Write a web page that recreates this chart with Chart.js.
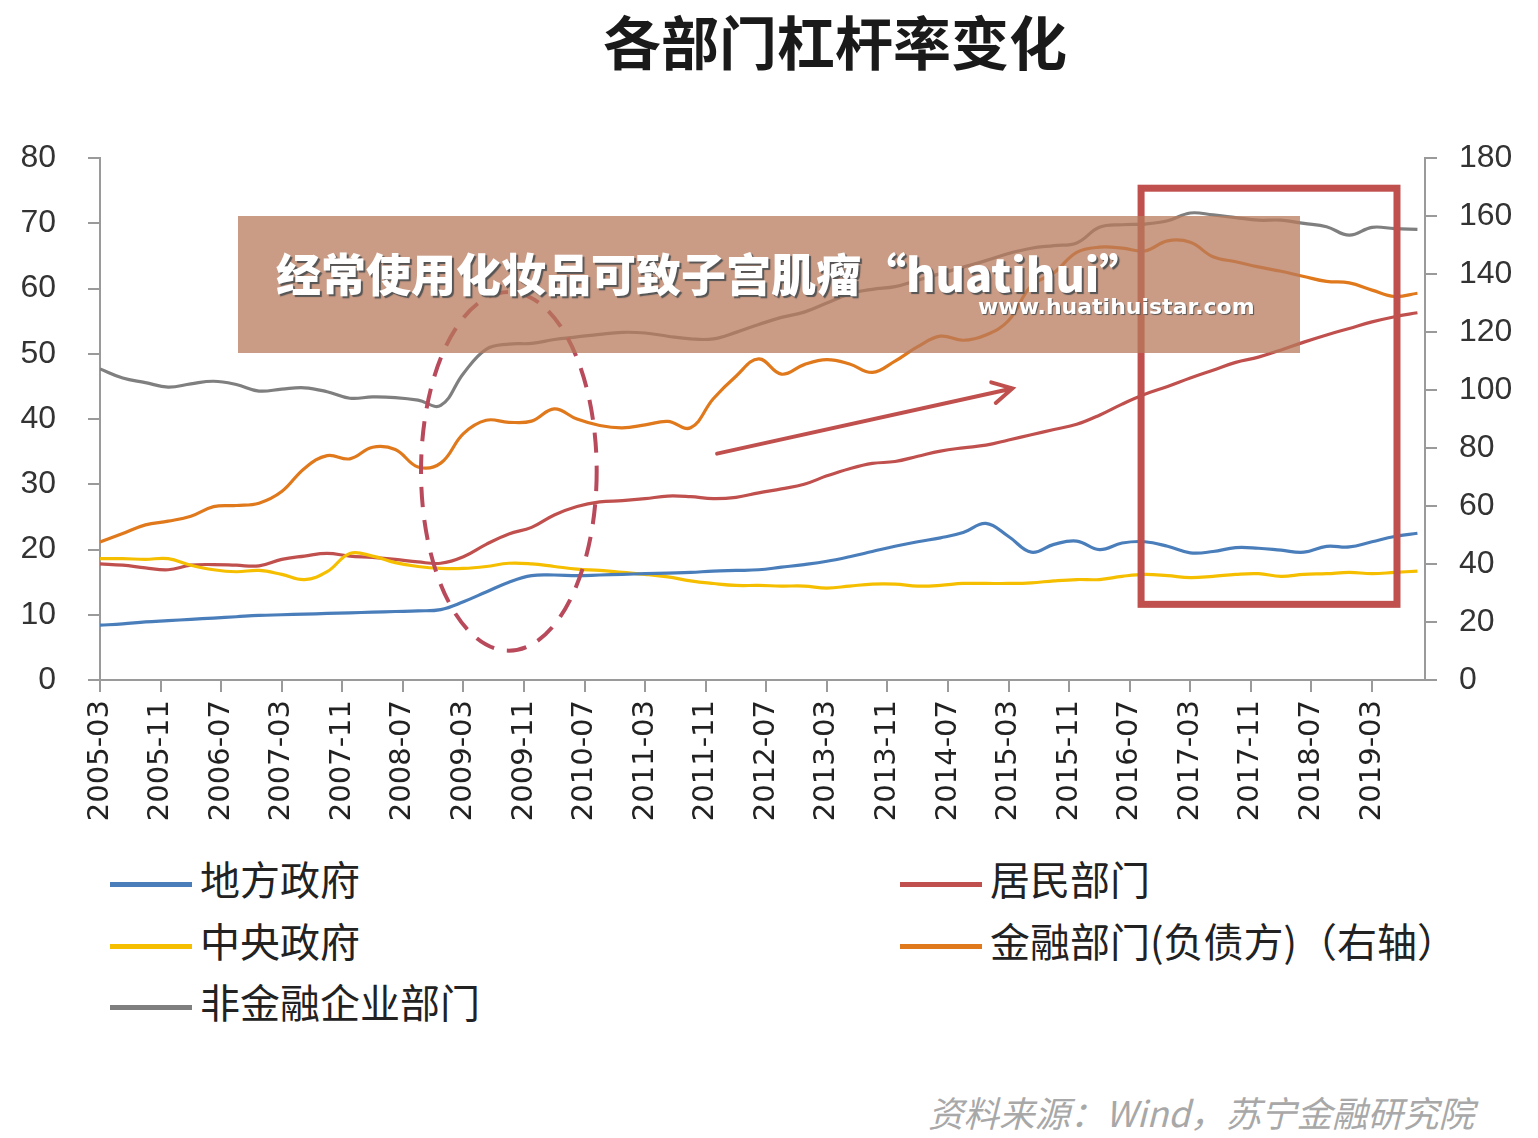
<!DOCTYPE html>
<html>
<head>
<meta charset="utf-8">
<script src="https://cdn.jsdelivr.net/npm/chart.js@4.4.0/dist/chart.umd.min.js"></script>
<style>
  body { margin: 0; background: #fff; width: 1538px; height: 1138px; position: relative; overflow: hidden; font-family: "Noto Sans CJK SC", sans-serif; }
  #title { position: absolute; left: 0; width: 1670px; top: -2px; text-align: center; font-size: 58px; font-weight: bold; color: #1a1a1a; }
  #chartBox { position: absolute; left: 0; top: 107px; width: 1538px; height: 733px; }
  .lg { position: absolute; font-size: 40px; color: #222; height: 60px; line-height: 60px; }
  .lg span { display: inline-block; width: 82px; height: 5px; vertical-align: middle; margin-right: 8px; }
  #banner { position: absolute; left: 238px; top: 216px; width: 1062px; height: 137px; background: rgba(184,122,92,0.75); }
  #banner .t1 { position: absolute; left: 38px; top: 24px; font-size: 45px; font-weight: 900; color: #fff; white-space: nowrap; text-shadow: 2px 2px 1px #555; }
  #banner .t2 { position: absolute; left: 740px; top: 78px; font-size: 22px; font-weight: bold; color: #fff; white-space: nowrap; font-family: "DejaVu Sans", sans-serif; text-shadow: 1px 1px 1px #555; }
  #source { position: absolute; left: 928px; top: 1086px; font-size: 35.5px; font-style: italic; color: #a8a8a8; white-space: nowrap; }
</style>
</head>
<body>
<div id="title">各部门杠杆率变化</div>
<div id="chartBox"><canvas id="levChart" width="1538" height="733"></canvas></div>
<div id="banner">
  <div class="t1">经常使用化妆品可致子宫肌瘤“huatihui”</div>
  <div class="t2">www.huatihuistar.com</div>
</div>
<div class="lg" style="left:110px; top:848px;"><span style="background:#4A7EBB"></span>地方政府</div>
<div class="lg" style="left:110px; top:910px;"><span style="background:#F5BF00"></span>中央政府</div>
<div class="lg" style="left:110px; top:971px;"><span style="background:#7F7F7F"></span>非金融企业部门</div>
<div class="lg" style="left:900px; top:848px;"><span style="background:#C0504D"></span>居民部门</div>
<div class="lg" style="left:900px; top:910px;"><span style="background:#E0781C"></span>金融部门(负债方)（右轴）</div>
<div id="source">资料来源：Wind，苏宁金融研究院</div>

<script>
// 季度日期
const dates = [
  '2005-03','2005-06','2005-09','2005-12','2006-03','2006-06','2006-09','2006-12',
  '2007-03','2007-06','2007-09','2007-12','2008-03','2008-06','2008-09','2008-12',
  '2009-03','2009-06','2009-09','2009-12','2010-03','2010-06','2010-09','2010-12',
  '2011-03','2011-06','2011-09','2011-12','2012-03','2012-06','2012-09','2012-12',
  '2013-03','2013-06','2013-09','2013-12','2014-03','2014-06','2014-09','2014-12',
  '2015-03','2015-06','2015-09','2015-12','2016-03','2016-06','2016-09','2016-12',
  '2017-03','2017-06','2017-09','2017-12','2018-03','2018-06','2018-09','2018-12',
  '2019-03','2019-06','2019-09'
];

// X轴刻度标签（每8个月）
const tickLabels = [
  '2005-03','2005-11','2006-07','2007-03','2007-11','2008-07','2009-03','2009-11',
  '2010-07','2011-03','2011-11','2012-07','2013-03','2013-11','2014-07','2015-03',
  '2015-11','2016-07','2017-03','2017-11','2018-07','2019-03'
];

const localGov = [
  8.4, 8.6, 8.9, 9.1, 9.3, 9.5, 9.7, 9.9, 10.0, 10.1, 10.2, 10.3, 10.4, 10.5, 10.6, 10.8,
  12.0, 13.5, 15.0, 16.0, 16.1, 16.0, 16.1, 16.2, 16.3, 16.4, 16.5, 16.7, 16.8, 16.9, 17.3, 17.7,
  18.2, 18.9, 19.7, 20.5, 21.2, 21.8, 22.6, 24.0, 22.0, 19.6, 20.8, 21.3, 20.0, 21.0, 21.2, 20.5,
  19.5, 19.7, 20.3, 20.2, 19.9, 19.6, 20.5, 20.4, 21.2, 22.0, 22.5
];

const centralGov = [
  18.6, 18.6, 18.5, 18.6, 17.6, 16.9, 16.6, 16.8, 16.2, 15.4, 16.6, 19.4, 19.0, 18.0, 17.4, 17.1,
  17.1, 17.4, 17.9, 17.8, 17.4, 17.0, 16.8, 16.5, 16.2, 15.8, 15.2, 14.8, 14.5, 14.5, 14.4, 14.4,
  14.1, 14.4, 14.7, 14.7, 14.4, 14.5, 14.8, 14.8, 14.8, 14.9, 15.2, 15.4, 15.4, 15.9, 16.2, 16.0,
  15.7, 15.9, 16.2, 16.3, 15.9, 16.2, 16.3, 16.5, 16.3, 16.5, 16.7
];

const corporate = [
  47.7, 46.3, 45.6, 44.9, 45.4, 45.8, 45.3, 44.3, 44.6, 44.8, 44.2, 43.2, 43.4, 43.3, 42.9, 42.1,
  47.0, 50.7, 51.5, 51.6, 52.2, 52.6, 53.0, 53.3, 53.2, 52.7, 52.3, 52.3, 53.3, 54.5, 55.6, 56.4,
  57.8, 59.2, 59.9, 60.3, 61.3, 62.3, 63.3, 64.3, 65.4, 66.2, 66.6, 67.0, 69.4, 69.8, 69.9, 70.4,
  71.6, 71.3, 70.9, 70.5, 70.5, 70.0, 69.5, 68.2, 69.4, 69.2, 69.1
];

const household = [
  17.8, 17.6, 17.2, 16.9, 17.6, 17.7, 17.6, 17.5, 18.5, 19.0, 19.4, 19.0, 18.8, 18.5, 18.1, 17.9,
  18.9, 20.8, 22.4, 23.4, 25.3, 26.6, 27.3, 27.5, 27.8, 28.2, 28.1, 27.8, 28.0, 28.7, 29.3, 30.0,
  31.3, 32.4, 33.2, 33.5, 34.3, 35.1, 35.6, 36.0, 36.8, 37.6, 38.4, 39.2, 40.6, 42.3, 43.8, 45.0,
  46.3, 47.5, 48.7, 49.5, 50.6, 51.8, 52.9, 53.9, 54.9, 55.7, 56.3
];

// 金融部门（负债方），右轴
const financial = [
  47.6, 50.5, 53.5, 54.8, 56.5, 59.8, 60.2, 61.0, 65.0, 73.0, 77.4, 76.3, 80.3, 79.5, 73.5, 74.8,
  85.0, 89.6, 88.9, 89.3, 93.5, 90.0, 87.8, 87.0, 88.0, 89.2, 87.0, 97.0, 104.8, 110.8, 105.5, 108.8,
  110.5, 109.0, 106.1, 110.0, 115.0, 118.6, 117.2, 119.0, 124.0, 136.0, 140.5, 147.5, 149.3, 149.0, 148.0, 151.5,
  151.0, 146.0, 144.3, 142.5, 141.0, 139.2, 137.5, 137.0, 134.5, 132.3, 133.4
];

// 日期 -> 距 2005-03 的月数
const monthIdx = dates.map(d => (parseInt(d.slice(0, 4)) - 2005) * 12 + parseInt(d.slice(5)) - 3);
const pts = arr => arr.map((v, i) => ({ x: monthIdx[i], y: v }));

// 图上的标注（数据单位）
const ellipseMark = { x: 54, y: 32, rx: 11.6, ry: 27.5 };
const boxMark = { x1: 137.5, x2: 171.3, y1: 75.4, y2: 11.6 };
const arrowMark = { x1: 81.5, y1: 34.7, x2: 120.5, y2: 44.7 };

const annotPlugin = {
  id: 'annot',
  afterDatasetsDraw(chart) {
    const { ctx, scales } = chart;
    const x = scales.x, y = scales.y;
    ctx.save();
    // 虚线椭圆
    const cx = x.getPixelForValue(ellipseMark.x), cy = y.getPixelForValue(ellipseMark.y);
    const rx = x.getPixelForValue(ellipseMark.x + ellipseMark.rx) - cx;
    const ry = cy - y.getPixelForValue(ellipseMark.y + ellipseMark.ry);
    ctx.beginPath();
    ctx.setLineDash([20, 13]);
    ctx.lineWidth = 4;
    ctx.strokeStyle = '#B84A5C';
    ctx.ellipse(cx, cy, rx, ry, 0, 0, Math.PI * 2);
    ctx.stroke();
    ctx.setLineDash([]);
    // 红框
    ctx.lineWidth = 7;
    ctx.strokeStyle = '#C0504D';
    const bx1 = x.getPixelForValue(boxMark.x1), bx2 = x.getPixelForValue(boxMark.x2);
    const by1 = y.getPixelForValue(boxMark.y1), by2 = y.getPixelForValue(boxMark.y2);
    ctx.strokeRect(bx1, by1, bx2 - bx1, by2 - by1);
    // 箭头
    const ax1 = x.getPixelForValue(arrowMark.x1), ay1 = y.getPixelForValue(arrowMark.y1);
    const ax2 = x.getPixelForValue(arrowMark.x2), ay2 = y.getPixelForValue(arrowMark.y2);
    const ang = Math.atan2(ay2 - ay1, ax2 - ax1);
    ctx.lineWidth = 4;
    ctx.lineCap = 'round';
    ctx.beginPath();
    ctx.moveTo(ax1, ay1);
    ctx.lineTo(ax2, ay2);
    ctx.moveTo(ax2 - 22 * Math.cos(ang - 0.5), ay2 - 22 * Math.sin(ang - 0.5));
    ctx.lineTo(ax2, ay2);
    ctx.lineTo(ax2 - 22 * Math.cos(ang + 0.5), ay2 - 22 * Math.sin(ang + 0.5));
    ctx.stroke();
    ctx.restore();
  }
};

const axisColor = '#9a9a9a';
const tickFont = { family: 'Liberation Sans', size: 32 };

const ctx = document.getElementById('levChart').getContext('2d');
const levChart = new Chart(ctx, {
  type: 'line',
  data: {
    datasets: [
      { label: '地方政府', data: pts(localGov), borderColor: '#4A7EBB', yAxisID: 'y' },
      { label: '中央政府', data: pts(centralGov), borderColor: '#F5BF00', yAxisID: 'y' },
      { label: '非金融企业部门', data: pts(corporate), borderColor: '#7F7F7F', yAxisID: 'y' },
      { label: '居民部门', data: pts(household), borderColor: '#C0504D', yAxisID: 'y' },
      { label: '金融部门(负债方)（右轴）', data: pts(financial), borderColor: '#E0781C', yAxisID: 'y1' }
    ]
  },
  options: {
    responsive: false,
    animation: false,
    devicePixelRatio: 1,
    layout: { padding: { top: 17, left: 0, right: 0, bottom: 0 } },
    elements: {
      line: { borderWidth: 3.2, tension: 0.4, fill: false },
      point: { radius: 0 }
    },
    plugins: {
      legend: { display: false },
      tooltip: { enabled: false }
    },
    scales: {
      x: {
        type: 'linear',
        min: 0,
        max: 175,
        afterFit: s => { s.height = 160; },
        border: { color: axisColor, width: 2 },
        grid: { drawOnChartArea: false, tickLength: 12, color: axisColor, lineWidth: 2 },
        ticks: {
          stepSize: 8,
          includeBounds: false,
          autoSkip: false,
          minRotation: 90,
          maxRotation: 90,
          padding: 8,
          color: '#222',
          font: { family: 'DejaVu Sans', size: 29 },
          callback: v => tickLabels[v / 8]
        }
      },
      y: {
        position: 'left',
        min: 0,
        max: 80,
        afterFit: s => { s.width = 100; },
        border: { color: axisColor, width: 2 },
        grid: { drawOnChartArea: false, tickLength: 12, color: axisColor, lineWidth: 2 },
        ticks: { stepSize: 10, padding: 32, color: '#333', font: tickFont }
      },
      y1: {
        position: 'right',
        min: 0,
        max: 180,
        afterFit: s => { s.width = 113; },
        border: { color: axisColor, width: 2 },
        grid: { drawOnChartArea: false, tickLength: 12, color: axisColor, lineWidth: 2 },
        ticks: { stepSize: 20, padding: 22, color: '#333', font: tickFont }
      }
    }
  },
  plugins: [annotPlugin]
});
</script>
</body>
</html>
